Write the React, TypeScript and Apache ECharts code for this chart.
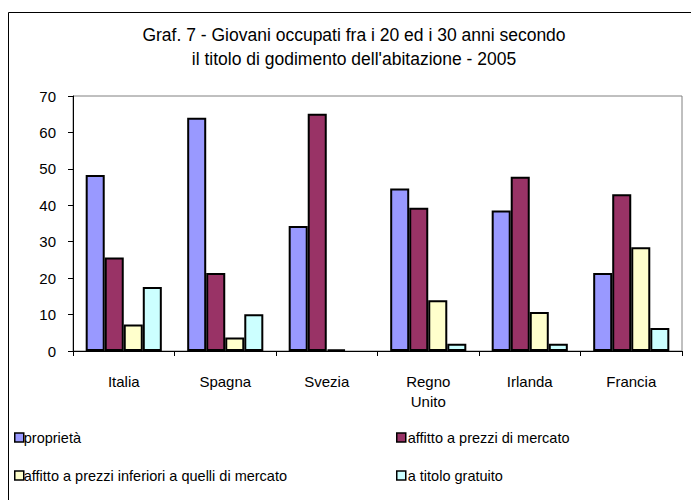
import React, { useEffect, useRef } from "react";
import * as echarts from "echarts";

const categories = ["Italia", "Spagna", "Svezia", "Regno\nUnito", "Irlanda", "Francia"];
const seriesNames = [
  "proprietà",
  "affitto a prezzi di mercato",
  "affitto a prezzi inferiori a quelli di mercato",
  "a titolo gratuito",
];
const proprieta = [48.3, 64.0, 34.3, 44.6, 38.6, 21.4];
const affittoMercato = [25.7, 21.4, 65.1, 39.3, 47.8, 43.0];
const affittoInferiori = [7.3, 3.7, 0.4, 13.9, 10.7, 28.5];
const gratuito = [17.6, 10.1, null, 2.0, 2.0, 6.3];
const colors = ["#9999FF", "#993366", "#FFFFCC", "#CCFFFF"];
const yTicks = { min: 0, max: 70, interval: 10 };

const FONT = "Arial, 'Liberation Sans', sans-serif";

export default function App() {
  const ref = useRef<HTMLDivElement>(null);
  useEffect(() => {
    if (!ref.current) return;
    const chart = echarts.init(ref.current, undefined, { renderer: "svg" });
    const values = [proprieta, affittoMercato, affittoInferiori, gratuito];
    const legendText = { fontSize: 14.5, color: "#000", fontFamily: FONT };
    chart.setOption({
      animation: false,
      backgroundColor: "#fff",
      textStyle: { fontFamily: FONT },
      graphic: [
        {
          type: "rect",
          shape: { x: 8.5, y: 12.5, width: 700, height: 500 },
          style: { fill: "none", stroke: "#000", lineWidth: 1 },
          silent: true,
        },
        {
          type: "text",
          x: 354,
          y: 23,
          style: {
            text: "Graf. 7 - Giovani occupati fra i 20 ed i 30 anni secondo\nil titolo di godimento dell'abitazione - 2005",
            textAlign: "center",
            fontSize: 17.5,
            lineHeight: 24,
            fill: "#000",
            fontFamily: FONT,
          },
        },
      ],
      grid: {
        left: 73,
        right: 9,
        top: 96,
        bottom: 149,
        show: true,
        borderColor: "#808080",
        borderWidth: 1,
        backgroundColor: "#fff",
      },
      legend: [
        {
          orient: "vertical",
          left: 9,
          top: 425,
          itemWidth: 9,
          itemHeight: 9,
          itemGap: 23,
          icon: "rect",
          data: [seriesNames[0], seriesNames[2]],
          itemStyle: { borderColor: "#000", borderWidth: 1.5 },
          textStyle: { ...legendText, padding: [0, 0, 0, -5] },
        },
        {
          orient: "vertical",
          left: 391,
          top: 425,
          itemWidth: 9,
          itemHeight: 9,
          itemGap: 23,
          icon: "rect",
          data: [seriesNames[1], seriesNames[3]],
          itemStyle: { borderColor: "#000", borderWidth: 1.5 },
          textStyle: { ...legendText, padding: [0, 0, 0, -3] },
        },
      ],
      xAxis: {
        type: "category",
        data: categories,
        axisLine: { lineStyle: { color: "#000", width: 1 } },
        axisTick: { show: true, alignWithLabel: false, length: 5, lineStyle: { color: "#000" } },
        axisLabel: { color: "#000", fontSize: 15, margin: 20, lineHeight: 20, fontFamily: FONT },
      },
      yAxis: {
        type: "value",
        min: yTicks.min,
        max: yTicks.max,
        interval: yTicks.interval,
        axisLine: { show: true, lineStyle: { color: "#000", width: 1 } },
        axisTick: { show: true, length: 5, lineStyle: { color: "#000" } },
        splitLine: { show: false },
        axisLabel: { color: "#000", fontSize: 15, margin: 17, fontFamily: FONT },
      },
      series: values.map((v, i) => ({
        name: seriesNames[i],
        type: "bar",
        data: v,
        barGap: "0%",
        barCategoryGap: "25%",
        itemStyle: { color: colors[i], borderColor: "#000", borderWidth: 2 },
      })),
    });
    return () => chart.dispose();
  }, []);
  return (
    <div
      ref={ref}
      style={{ position: "fixed", left: 0, top: 0, width: 691, height: 500 }}
    />
  );
}
